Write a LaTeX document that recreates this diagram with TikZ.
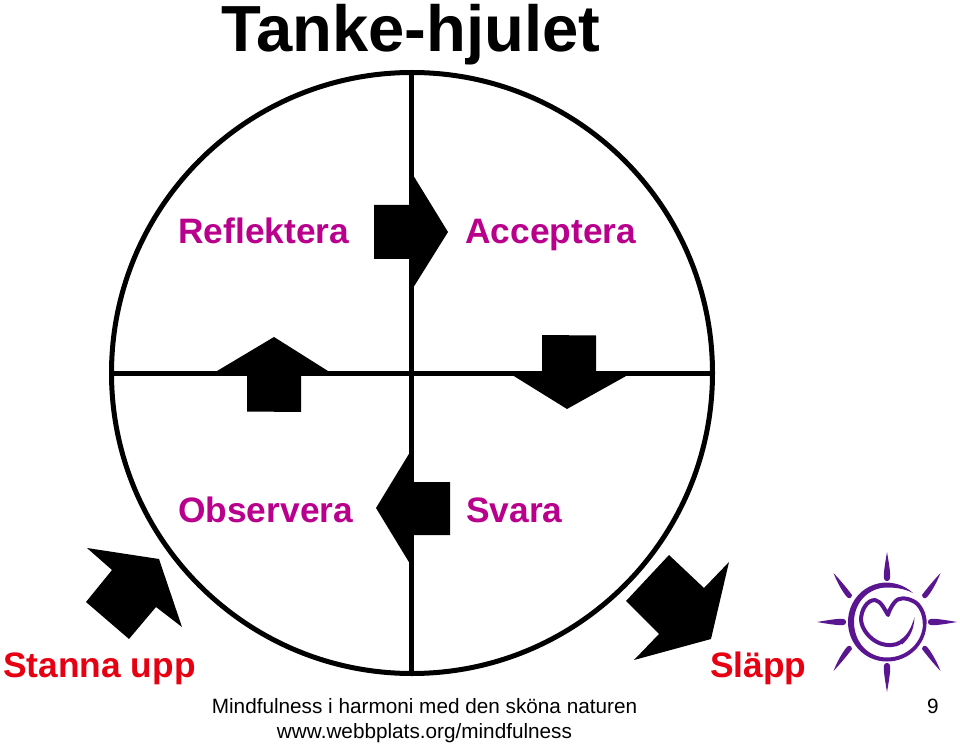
\documentclass[tikz,border=0pt]{standalone}
\usepackage{fontspec}
\setmainfont{Liberation Sans}
\usepackage[dvipsnames]{xcolor}
\usepackage{tikz}
\usetikzlibrary{positioning}
\definecolor{wheeltext}{HTML}{B8008C}
\definecolor{stoptext}{HTML}{E60012}
\definecolor{sunpurple}{HTML}{5A1690}
\tikzset{
	wheelline/.style={line width=3.75pt,black},
	blockarrow/.style={fill=black,draw=none},
	wheellabel/.style={anchor=base west,inner sep=0pt,text=wheeltext,font=\fontsize{26.5}{26.5}\selectfont\bfseries},
	sidelabel/.style={anchor=base west,inner sep=0pt,text=stoptext,font=\fontsize{26.5}{26.5}\selectfont\bfseries},
	footlabel/.style={anchor=base,inner sep=0pt,text=black,font=\fontsize{15.55}{15.55}\selectfont},
	sunline/.style={sunpurple,line cap=round,line join=round}
}

\begin{document}
\begin{tikzpicture}[x=0.75pt,y=-0.75pt]
		\def\R{300.5}
		\useasboundingbox (0,0) rectangle (960,745);
		
		% wheel
		\coordinate (C) at (412,373);
		\draw[wheelline] (C) circle (\R);
		\draw[wheelline] (411.5,73) -- (411.5,673);
		\draw[wheelline] (112,373) -- (713,373);
		
		% arrows in the wheel
		\fill[blockarrow] (374,205) -- (411,205) -- (413,175) -- (448,232) -- (413,288) -- (411,259) -- (374,259) -- cycle;
		\fill[blockarrow] (542,335) -- (596,335.5) -- (596,373) -- (627,375.5) -- (567,409) -- (513,375.5) -- (542,373) -- cycle;
		\fill[blockarrow] (450,482) -- (411,482) -- (409.5,453) -- (376,508) -- (409.5,563) -- (411,535) -- (450,535) -- cycle;
		\fill[blockarrow] (301,412) -- (247,411.5) -- (247,373) -- (217,371) -- (274,337) -- (328,371) -- (301,373) -- cycle;
		
		% arrows outside
		\fill[blockarrow] (87,548) -- (159,559) -- (182,627) -- (156,607) -- (129,639) -- (86,602) -- (112,570) -- cycle;
		\fill[blockarrow] (669,555) -- (704,588) -- (729,562) -- (711,639) -- (634,660) -- (659,634) -- (626,601) -- cycle;
		
		% texts
		\node[anchor=base west,inner sep=0pt,font=\fontsize{48.9}{48.9}\selectfont\bfseries] (title) at (221,52) {Tanke-hjulet};
		\node[wheellabel] (reflektera) at (178,244) {Reflektera};
		\node[wheellabel] (acceptera) at (465,244) {Acceptera};
		\node[wheellabel] (observera) at (178,522) {Observera};
		\node[wheellabel] (svara) at (466,522) {Svara};
		\node[sidelabel] (stanna) at (3,677) {Stanna upp};
		\node[sidelabel] (slapp) at (710,677) {Släpp};
		\node[footlabel] (foot) at (424.5,713.5) {Mindfulness i harmoni med den sköna naturen};
		\node[footlabel] (web) at (424.5,738.5) {www.webbplats.org/mindfulness};
		\node[footlabel] (page) at (933,713.5) {9};
		
		% sun
		\begin{scope}[shift={(887,622)}]
			\foreach \a in {0,90,180,270}{
				\fill[sunpurple,rotate=\a] (41,0) .. controls (41,-3) and (44,-3.4) .. (48,-3.2) .. controls (55,-2.6) and (63,-1.2) .. (70,0) .. controls (63,1.2) and (55,2.6) .. (48,3.2) .. controls (44,3.4) and (41,3) .. (41,0) -- cycle;
			}
			\foreach \sx/\sy in {1/1,-1/1,1/-1,-1/-1}{
				\fill[sunpurple,xscale=\sx,yscale=\sy] (35,27) .. controls (35.5,23) and (38.5,23) .. (40.5,25.5) .. controls (45,31) and (50,40) .. (53.5,49) .. controls (47,42) and (41,35) .. (35,27) -- cycle;
			}
			% ring, running into the heart
			\fill[sunpurple] (26,-29) .. controls (18,-36) and (10,-39) .. (0,-39.5) .. controls (-22,-39.5) and (-39,-22) .. (-39,0) .. controls (-39,22) and (-22,39.5) .. (0,39.5) .. controls (22,39.5) and (39.5,22) .. (39.5,1) -- (36,1) .. controls (36,20) and (20,35.5) .. (0,35.5) .. controls (-19,35.5) and (-33,20) .. (-33,0) .. controls (-33,-19) and (-19,-34.5) .. (0,-34.5) .. controls (10,-34.5) and (18,-33) .. (26,-29) -- cycle;
			\draw[sunline,line width=3pt] (37.7,1) .. controls (37.7,-8) and (33,-18) .. (26,-21) .. controls (20,-24) and (12,-26) .. (7,-19) .. controls (4,-15) and (2,-11) .. (1,-7) .. controls (-2,-12) and (-6,-21) .. (-12,-22) .. controls (-20,-22) and (-26,-12) .. (-26,-2) .. controls (-25,8) and (-17,17) .. (-8,21) .. controls (0,24) and (8,24) .. (14,20);
			\fill[sunpurple] (13,18) .. controls (21,13) and (25,4) .. (27.5,-5) .. controls (27,6) and (24,15) .. (15,22.5) -- cycle;
		\end{scope}
		\end{tikzpicture}
\end{document}
